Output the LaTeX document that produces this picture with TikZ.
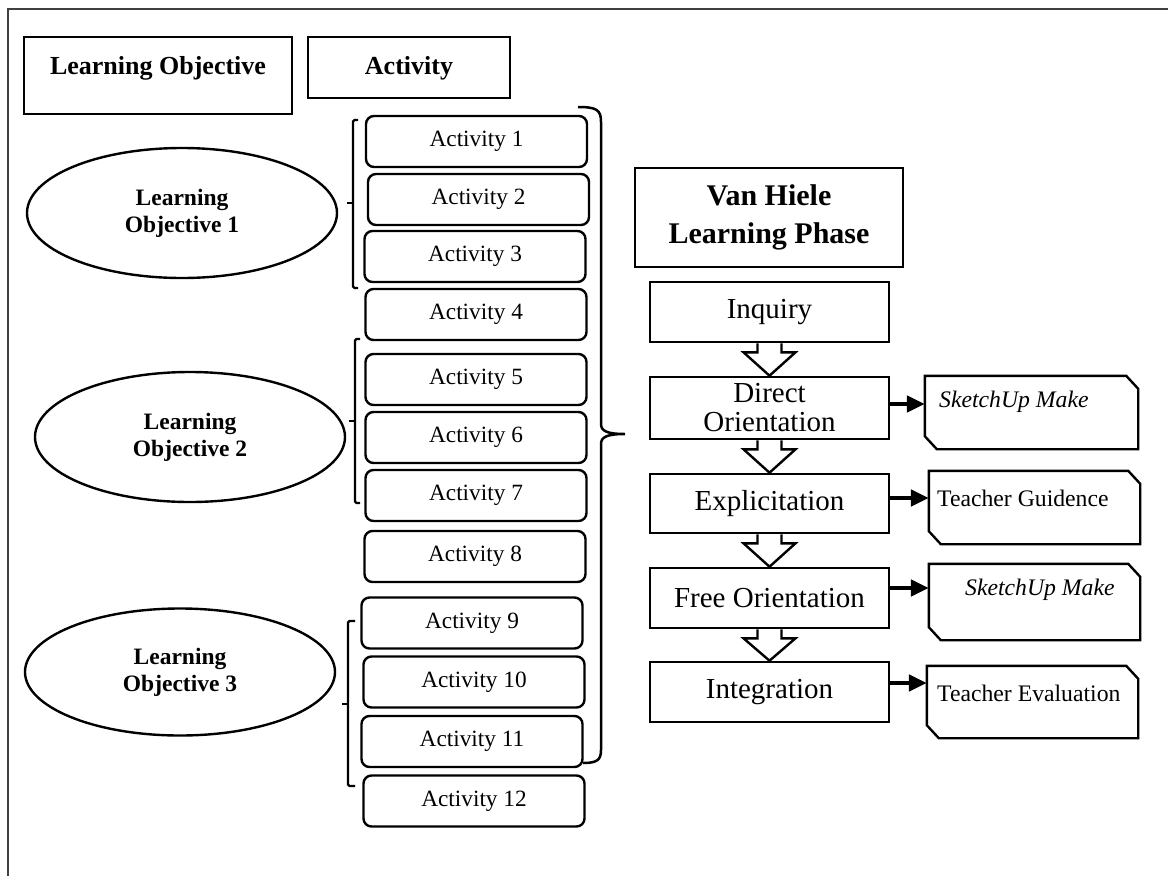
\documentclass[tikz,border=0pt]{standalone}
\usepackage{fontspec}
\setmainfont{Liberation Serif}
\usetikzlibrary{shapes.geometric,arrows.meta,calc}
\begin{document}
\begin{tikzpicture}[x=1pt,y=-1pt,
  hdr/.style={draw,line width=2.6pt,inner sep=0pt,font=\fontsize{26}{30}\selectfont\bfseries},
  act/.style={draw,line width=2.4pt,rounded corners=8pt,minimum width=221pt,minimum height=51pt,inner sep=0pt,font=\fontsize{23.3}{26}\selectfont},
  obj/.style={draw,ellipse,line width=2.4pt,minimum width=310pt,minimum height=130pt,inner sep=0pt,align=center,font=\fontsize{23.5}{27}\selectfont\bfseries},
  phase/.style={draw,line width=2.6pt,minimum width=239pt,minimum height=60pt,inner sep=0pt,align=center,font=\fontsize{29}{29}\selectfont},
  toolbox/.style={inner sep=0pt},
  tooltext/.style={anchor=west,inner sep=0pt,font=\fontsize{23.7}{26}\selectfont},
  brk/.style={line width=2.3pt,rounded corners=1.5pt},
  hollow/.style={line width=2.4pt,line join=miter},
  toarrow/.style={line width=4.5pt,-{Triangle[length=18pt,width=16pt]}}
]
\useasboundingbox (0,0) rectangle (1168,876);
% frame
\draw[line width=1.5pt,black!75] (8,876) -- (8,9) -- (1168,9);

% headers
\node[hdr,minimum width=268pt,minimum height=77pt,text height=18pt,text depth=20pt] (lohead) at (158,75.5) {Learning Objective};
\node[hdr,minimum width=202pt,minimum height=61pt,text height=18pt,text depth=4pt] (acthead) at (409,67.5) {Activity};
\node[hdr,minimum width=268pt,minimum height=99pt,align=center,font=\fontsize{30}{38}\selectfont\bfseries] (vhhead) at (769,217.5) {Van Hiele\\Learning Phase};

% objectives
\node[obj] (o1) at (182,213) {Learning\\Objective 1};
\node[obj] (o2) at (190,437) {Learning\\Objective 2};
\node[obj,minimum height=127pt] (o3) at (180,672) {Learning\\Objective 3};

% activities
\node[act] (a1) at (476.5,141.5) {Activity 1};
\node[act] (a2) at (478.5,199.5) {Activity 2};
\node[act] (a3) at (475,256.5) {Activity 3};
\node[act] (a4) at (476,314.5) {Activity 4};
\node[act] (a5) at (476,379.5) {Activity 5};
\node[act] (a6) at (476,437.5) {Activity 6};
\node[act] (a7) at (476,495.5) {Activity 7};
\node[act] (a8) at (475,556.5) {Activity 8};
\node[act] (a9) at (472,623) {Activity 9};
\node[act] (a10) at (474,682) {Activity 10};
\node[act] (a11) at (472,741.5) {Activity 11};
\node[act] (a12) at (474,801) {Activity 12};

% left brackets
\draw[brk] (358,120) -- (353,120) -- (353,288) -- (358,288);
\draw[line width=2.3pt] (353,203) -- (347,203);
\draw[brk] (360,339) -- (355,339) -- (355,503) -- (360,503);
\draw[line width=2.3pt] (355,421) -- (349,421);
\draw[brk] (355,621) -- (348,621) -- (348,786) -- (355,786);
\draw[line width=2.3pt] (348,704) -- (342,704);

% big right brace
\draw[line width=2.5pt] (578,107) .. controls (597,107) and (601,110) .. (601,122)
  -- (601,424) .. controls (601,431) and (607,434) .. (625,434)
  .. controls (607,434) and (601,437) .. (601,444)
  -- (601,750) .. controls (601,760) and (597,763) .. (583,763);

% phases
\node[phase] (p1) at (769.5,312) {Inquiry};
\node[phase,minimum height=62pt] (p2) at (769.5,408) {Direct\\Orientation};
\node[phase,minimum height=59pt] (p3) at (769.5,503.5) {Explicitation};
\node[phase] (p4) at (769.5,598) {Free Orientation};
\node[phase] (p5) at (769.5,692) {Integration};

% hollow arrows
\foreach \s/\t in {p1/p2,p2/p3,p3/p4,p4/p5}{
  \draw[hollow] ([xshift=-12pt]\s.south) -- ++(0,9) -- ++(-14,0) -- (\t.north)
    -- ([xshift=26pt,yshift=-9pt]\s.south) -- ++(-14,0) -- ([xshift=12pt]\s.south);
}

% tool boxes
\node[toolbox,minimum width=213pt,minimum height=73pt] (t1) at (1031.5,412.5) {};
\node[toolbox,minimum width=211pt,minimum height=73pt] (t2) at (1034.5,507.5) {};
\node[toolbox,minimum width=211pt,minimum height=76pt] (t3) at (1034.5,602) {};
\node[toolbox,minimum width=211pt,minimum height=72pt] (t4) at (1032.5,702) {};
\foreach \t in {t1,t2,t3,t4}{
  \draw[line width=2.4pt,line join=miter] (\t.north west) -- ([xshift=-12pt]\t.north east)
    -- ([yshift=-13pt]\t.north east) -- (\t.south east) -- ([xshift=12pt]\t.south west)
    -- ([yshift=13pt]\t.south west) -- cycle;
}
\node[tooltext,font=\fontsize{23.7}{26}\selectfont\itshape] (x1) at (939,402) {SketchUp Make};
\node[tooltext] (x2) at (937,498) {Teacher Guidence};
\node[tooltext,font=\fontsize{23.7}{26}\selectfont\itshape] (x3) at (965,590) {SketchUp Make};
\node[tooltext] (x4) at (937,693) {Teacher Evaluation};

% arrows to tools
\draw[toarrow] (p2.east |- 0,404) -- (t1.west |- 0,404);
\draw[toarrow] (p3.east |- 0,498) -- (t2.west |- 0,498);
\draw[toarrow] (p4.east |- 0,588) -- (t3.west |- 0,588);
\draw[toarrow] (p5.east |- 0,683) -- (t4.west |- 0,683);
\end{tikzpicture}
\end{document}
